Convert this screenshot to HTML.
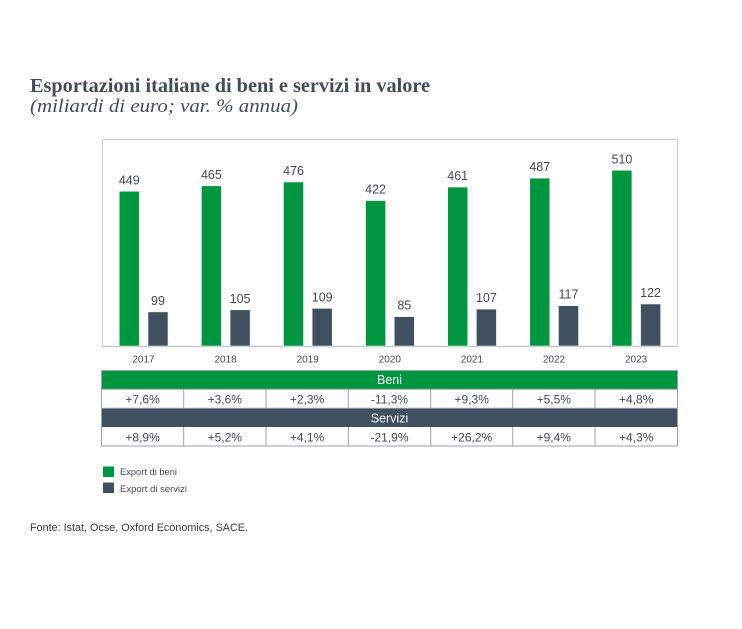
<!DOCTYPE html>
<html><head><meta charset="utf-8"><style>
html,body{margin:0;padding:0;background:#fff;}
svg{display:block;}
</style></head><body>
<svg width="742" height="629" viewBox="0 0 742 629" xmlns="http://www.w3.org/2000/svg">
<rect width="742" height="629" fill="#fff"/>
<text x="30" y="92" font-family="Liberation Serif, serif" font-weight="bold" font-size="19.5" fill="#3f4e5c" textLength="400" lengthAdjust="spacingAndGlyphs">Esportazioni italiane di beni e servizi in valore</text>
<text x="30" y="112" font-family="Liberation Serif, serif" font-style="italic" font-size="18.5" fill="#3f4e5c" textLength="268" lengthAdjust="spacingAndGlyphs">(miliardi di euro; var. % annua)</text>

<rect x="102.5" y="139.5" width="575" height="207" fill="none" stroke="#cdd1d5" stroke-width="1"/>
<line x1="102" y1="346.5" x2="677" y2="346.5" stroke="#c3c7cb" stroke-width="1.5"/>

<g font-family="Liberation Sans, sans-serif" font-size="12.5" fill="#404a54" text-anchor="middle">
<g fill="#00963f" stroke="#e6f2ea" stroke-width="0.6">
<rect x="119.3" y="191.3" width="20" height="154.7"/>
<rect x="201.4" y="185.8" width="20" height="160.2"/>
<rect x="283.5" y="182" width="20" height="164"/>
<rect x="365.6" y="200.6" width="20" height="145.4"/>
<rect x="447.7" y="187.1" width="20" height="158.9"/>
<rect x="529.8" y="178.2" width="20" height="167.8"/>
<rect x="611.9" y="170.3" width="20" height="175.7"/>
</g>
<g fill="#3f5060" stroke="#e8ecef" stroke-width="0.6">
<rect x="148" y="311.9" width="20" height="34.1"/>
<rect x="230.1" y="309.8" width="20" height="36.2"/>
<rect x="312.2" y="308.4" width="20" height="37.6"/>
<rect x="394.3" y="316.7" width="20" height="29.3"/>
<rect x="476.4" y="309.1" width="20" height="36.9"/>
<rect x="558.5" y="305.7" width="20" height="40.3"/>
<rect x="640.6" y="304" width="20" height="42"/>
</g>
<text x="129.3" y="184.3">449</text>
<text x="211.4" y="178.8">465</text>
<text x="293.5" y="175">476</text>
<text x="375.6" y="193.6">422</text>
<text x="457.7" y="180.1">461</text>
<text x="539.8" y="171.2">487</text>
<text x="621.9" y="163.3">510</text>
<text x="158" y="304.9">99</text>
<text x="240.1" y="302.8">105</text>
<text x="322.2" y="301.4">109</text>
<text x="404.3" y="309.7">85</text>
<text x="486.4" y="302.1">107</text>
<text x="568.5" y="298.7">117</text>
<text x="650.6" y="297">122</text>
</g>
<g font-family="Liberation Sans, sans-serif" font-size="10" fill="#404a54" text-anchor="middle">
<text x="143.5" y="362.5">2017</text>
<text x="225.6" y="362.5">2018</text>
<text x="307.7" y="362.5">2019</text>
<text x="389.8" y="362.5">2020</text>
<text x="471.9" y="362.5">2021</text>
<text x="554" y="362.5">2022</text>
<text x="636.1" y="362.5">2023</text>
</g>

<rect x="101.5" y="370" width="576" height="19.3" fill="#00963f"/>
<rect x="101.5" y="408.3" width="576" height="18.7" fill="#3f5060"/>
<rect x="101.5" y="370.5" width="576" height="75.5" fill="none" stroke="#9aa3ab" stroke-width="1"/>
<line x1="101.5" y1="408.3" x2="677.5" y2="408.3" stroke="#9aa3ab"/>
<line x1="101.5" y1="389.3" x2="677.5" y2="389.3" stroke="#9aa3ab"/>
<g stroke="#9aa3ab" stroke-width="1">
<line x1="183.7" y1="389.3" x2="183.7" y2="408.3"/><line x1="183.7" y1="427" x2="183.7" y2="446"/>
<line x1="266" y1="389.3" x2="266" y2="408.3"/><line x1="266" y1="427" x2="266" y2="446"/>
<line x1="348.3" y1="389.3" x2="348.3" y2="408.3"/><line x1="348.3" y1="427" x2="348.3" y2="446"/>
<line x1="430.7" y1="389.3" x2="430.7" y2="408.3"/><line x1="430.7" y1="427" x2="430.7" y2="446"/>
<line x1="512.7" y1="389.3" x2="512.7" y2="408.3"/><line x1="512.7" y1="427" x2="512.7" y2="446"/>
<line x1="595" y1="389.3" x2="595" y2="408.3"/><line x1="595" y1="427" x2="595" y2="446"/>
</g>
<g font-family="Liberation Sans, sans-serif" font-size="12.5" text-anchor="middle">
<text x="389.5" y="384" fill="#fff">Beni</text>
<text x="389.5" y="422.5" fill="#fff">Servizi</text>
<g fill="#404a54" font-size="12">
<text x="142.6" y="403.5">+7,6%</text>
<text x="224.8" y="403.5">+3,6%</text>
<text x="307.1" y="403.5">+2,3%</text>
<text x="389.5" y="403.5">-11,3%</text>
<text x="471.7" y="403.5">+9,3%</text>
<text x="553.8" y="403.5">+5,5%</text>
<text x="636.2" y="403.5">+4,8%</text>
<text x="142.6" y="441.5">+8,9%</text>
<text x="224.8" y="441.5">+5,2%</text>
<text x="307.1" y="441.5">+4,1%</text>
<text x="389.5" y="441.5">-21,9%</text>
<text x="471.7" y="441.5">+26,2%</text>
<text x="553.8" y="441.5">+9,4%</text>
<text x="636.2" y="441.5">+4,3%</text>
</g>
</g>

<rect x="103" y="466.5" width="11" height="10.5" fill="#00963f"/>
<rect x="103" y="482.5" width="11" height="10.5" fill="#3f5060"/>
<g font-family="Liberation Sans, sans-serif" font-size="9.5" fill="#404a54">
<text x="120" y="475" textLength="57" lengthAdjust="spacingAndGlyphs">Export di beni</text>
<text x="120" y="492" textLength="67" lengthAdjust="spacingAndGlyphs">Export di servizi</text>
</g>
<text x="30" y="531" font-family="Liberation Sans, sans-serif" font-size="11" fill="#333a40" textLength="218" lengthAdjust="spacingAndGlyphs">Fonte: Istat, Ocse, Oxford Economics, SACE.</text>
</svg>
</body></html>
